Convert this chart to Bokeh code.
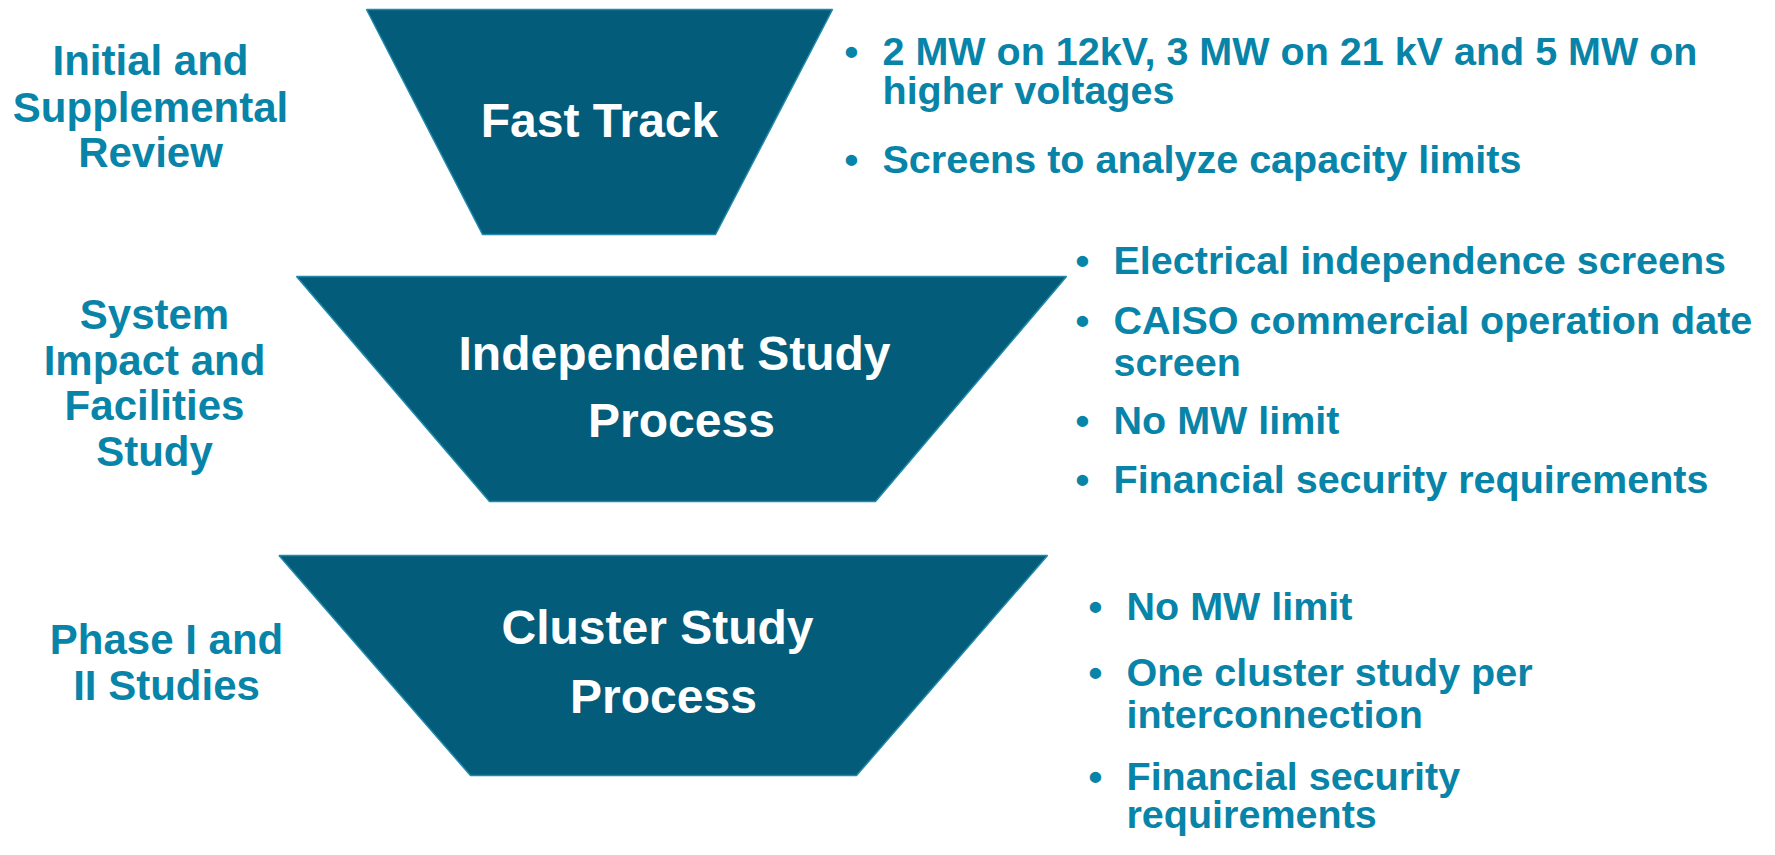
from bokeh.plotting import figure
from bokeh.models import Range1d
from bokeh.core.properties import value
from bokeh.embed import file_html
from bokeh.resources import INLINE

# ---------------- data (texts) ----------------
stage_lines = [
    ["Fast Track"],
    ["Independent Study", "Process"],
    ["Cluster Study", "Process"],
]
review_lines = [
    ["Initial and", "Supplemental", "Review"],
    ["System", "Impact and", "Facilities", "Study"],
    ["Phase I and", "II Studies"],
]
bullet_items = [
    [["2 MW on 12kV, 3 MW on 21 kV and 5 MW on", "higher voltages"],
     ["Screens to analyze capacity limits"]],
    [["Electrical independence screens"],
     ["CAISO commercial operation date", "screen"],
     ["No MW limit"],
     ["Financial security requirements"]],
    [["No MW limit"],
     ["One cluster study per", "interconnection"],
     ["Financial security", "requirements"]],
]

# ---------------- layout (pixel coordinates) ----------------
trap_top = [9, 276, 555]
trap_bottom = [234, 501, 775]
trap_top_x = [(366, 832), (296, 1066), (278.5, 1047)]
trap_bot_x = [(482, 715), (489, 875), (470, 856)]

stage_line_cx = [[599], [674, 681], [657, 663]]
stage_baselines = [[120], [353, 420], [627, 696]]

review_cx = [150, 154, 166]
review_baselines = [[60, 107, 152], [314, 360, 405, 451], [639, 685]]

bullet_dot_x = [851, 1082, 1095]
bullet_text_x = [882, 1113, 1126]
bullet_baselines = [
    [[50, 89], [158]],
    [[259], [319, 361], [419], [478]],
    [[605], [671, 713], [775, 813]],
]

FILL = "#035d7a"
EDGE = "#2189ab"
LABEL = "#0884a8"
FONT = value("Liberation Sans")

W, H = 1759, 839
p = figure(width=W, height=H, output_backend="svg", toolbar_location=None,
           x_range=Range1d(0, W), y_range=Range1d(H, 0),
           min_border=0, outline_line_color=None)
p.axis.visible = False
p.grid.visible = False
p.background_fill_color = "white"
p.border_fill_color = "white"

# trapezoids
xs, ys = [], []
for i in range(3):
    xs.append([trap_top_x[i][0], trap_top_x[i][1], trap_bot_x[i][1], trap_bot_x[i][0]])
    ys.append([trap_top[i], trap_top[i], trap_bottom[i], trap_bottom[i]])
p.patches(xs=xs, ys=ys, fill_color=FILL, line_color=EDGE, line_width=1.5)

# stage texts (white, inside trapezoids)
sx, sy, st = [], [], []
for i, lines in enumerate(stage_lines):
    for line, cx, b in zip(lines, stage_line_cx[i], stage_baselines[i]):
        sx.append(cx); sy.append(b); st.append(line)
p.text(x=sx, y=sy, text=st, text_color="white", text_font=FONT,
       text_font_style="bold", text_font_size="48px",
       text_align="center", text_baseline="alphabetic")

# review labels (left)
rx, ry, rt = [], [], []
for i, lines in enumerate(review_lines):
    for line, b in zip(lines, review_baselines[i]):
        rx.append(review_cx[i]); ry.append(b); rt.append(line)
p.text(x=rx, y=ry, text=rt, text_color=LABEL, text_font=FONT,
       text_font_style="bold", text_font_size="42px",
       text_align="center", text_baseline="alphabetic")

# bullets (right)
bx, by, tx, ty, tt = [], [], [], [], []
for g, items in enumerate(bullet_items):
    for k, lines in enumerate(items):
        bls = bullet_baselines[g][k]
        bx.append(bullet_dot_x[g]); by.append(bls[0])
        for line, b in zip(lines, bls):
            tx.append(bullet_text_x[g]); ty.append(b); tt.append(line)
p.text(x=bx, y=by, text=["\u2022"] * len(bx), text_color=LABEL, text_font=FONT,
       text_font_style="bold", text_font_size="39.5px",
       text_align="center", text_baseline="alphabetic")
p.text(x=tx, y=ty, text=tt, text_color=LABEL, text_font=FONT,
       text_font_style="bold", text_font_size="39.5px",
       text_align="left", text_baseline="alphabetic")

open("out.html", "w").write(file_html(p, INLINE))
